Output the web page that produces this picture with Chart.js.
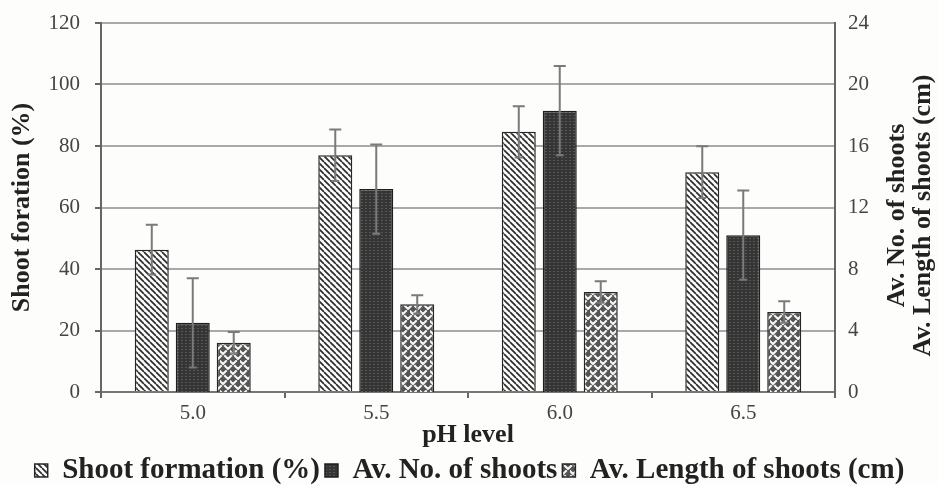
<!DOCTYPE html>
<html>
<head>
<meta charset="utf-8">
<script src="https://cdn.jsdelivr.net/npm/chart.js@4.4.1/dist/chart.umd.min.js"></script>
<style>
    html, body { margin: 0; padding: 0; background: #fdfdfb; }
    #wrap { width: 939px; height: 485px; position: relative; }
</style>
</head>
<body>
<div id="wrap"><canvas id="shoots-chart"></canvas></div>
<script>
const phLevels = ['5.0', '5.5', '6.0', '6.5'];

const shootFormation = [46.3, 77.0, 84.6, 71.5];
const shootFormationErr = [8.1, 8.4, 8.3, 8.4];

const avNoShoots = [4.5, 13.2, 18.3, 10.2];
const avNoShootsErr = [2.9, 2.9, 2.9, 2.9];

const avLengthShoots = [3.2, 5.7, 6.5, 5.2];
const avLengthShootsErr = [0.7, 0.6, 0.7, 0.7];

const leftTicks = {min: 0, max: 120, step: 20};
const rightTicks = {min: 0, max: 24, step: 4};

const serif = "'Liberation Serif', 'Times New Roman', serif";
Chart.defaults.font.family = serif;
Chart.defaults.color = '#333';

function makePattern(w, h, paint) {
    const c = document.createElement('canvas');
    c.width = w;
    c.height = h;
    const g = c.getContext('2d');
    paint(g, w, h);
    return g.createPattern(c, 'repeat');
}

// "\\\" hatch
const hatchPattern = makePattern(6, 6, (g, w, h) => {
    g.fillStyle = '#fbfbfb';
    g.fillRect(0, 0, w, h);
    g.strokeStyle = '#2e2e2e';
    g.lineWidth = 1.7;
    g.beginPath();
    [-w, 0, w].forEach(off => {
        g.moveTo(off, 0);
        g.lineTo(off + w, h);
    });
    g.stroke();
});

// dark fill with fine dotted texture
const darkPattern = makePattern(4, 3, (g, w, h) => {
    g.fillStyle = '#353535';
    g.fillRect(0, 0, w, h);
    g.fillStyle = '#575757';
    g.fillRect(1, 1, 2, 1);
});

// staggered chevrons, weave-like
const zigzagPattern = makePattern(10, 10, (g, w, h) => {
    g.fillStyle = '#545454';
    g.fillRect(0, 0, w, h);
    g.strokeStyle = '#f6f6f6';
    g.lineWidth = 2;
    g.lineCap = 'square';
    g.beginPath();
    g.moveTo(0, 1); g.lineTo(3, 4); g.lineTo(6, 1);
    g.moveTo(5, 6); g.lineTo(8, 9); g.lineTo(11, 6);
    g.moveTo(-5, 6); g.lineTo(-2, 9); g.lineTo(1, 6);
    g.stroke();
});

const errorValues = [shootFormationErr, avNoShootsErr, avLengthShootsErr];

const errorBars = {
    id: 'errorBars',
    afterDatasetsDraw(chart) {
        const ctx = chart.ctx;
        ctx.save();
        ctx.strokeStyle = '#7a7a7a';
        ctx.lineWidth = 2;
        chart.data.datasets.forEach((ds, d) => {
            const meta = chart.getDatasetMeta(d);
            const scale = chart.scales[meta.yAxisID];
            meta.data.forEach((bar, i) => {
                const v = ds.data[i];
                const e = errorValues[d][i];
                const yTop = scale.getPixelForValue(v + e);
                const yBot = scale.getPixelForValue(v - e);
                ctx.beginPath();
                ctx.moveTo(bar.x, yTop);
                ctx.lineTo(bar.x, yBot);
                ctx.moveTo(bar.x - 6, yTop);
                ctx.lineTo(bar.x + 6, yTop);
                ctx.moveTo(bar.x - 4, yBot);
                ctx.lineTo(bar.x + 4, yBot);
                ctx.stroke();
            });
        });
        ctx.restore();
    }
};

// right axis title reads bottom-to-top, two lines
const rightTitle = {
    id: 'rightTitle',
    afterDraw(chart) {
        const ctx = chart.ctx;
        const s = chart.scales.y1;
        const cy = (chart.chartArea.top + chart.chartArea.bottom) / 2 + 8;
        ctx.save();
        ctx.fillStyle = '#222';
        ctx.font = 'bold 26px ' + serif;
        ctx.textAlign = 'center';
        ctx.textBaseline = 'middle';
        [['Av. No. of shoots', 62], ['Av. Length of shoots (cm)', 88]].forEach(([text, dx]) => {
            ctx.save();
            ctx.translate(s.left + dx, cy);
            ctx.rotate(-Math.PI / 2);
            ctx.fillText(text, 0, 0);
            ctx.restore();
        });
        ctx.restore();
    }
};

// fixed axis width, no extra room above/below for the end labels
function fixWidth(width) {
    return (scale) => {
        scale.width = width;
        scale.paddingTop = 0;
        scale.paddingBottom = 0;
    };
}

new Chart(document.getElementById('shoots-chart'), {
    type: 'bar',
    data: {
        labels: phLevels,
        datasets: [{
            label: 'Shoot formation (%)',
            data: shootFormation,
            backgroundColor: hatchPattern,
            borderColor: '#262626',
            borderWidth: 1.5,
            yAxisID: 'y'
        }, {
            label: 'Av. No. of shoots',
            data: avNoShoots,
            backgroundColor: darkPattern,
            borderColor: '#1e1e1e',
            borderWidth: 1.5,
            yAxisID: 'y1'
        }, {
            label: 'Av. Length of shoots (cm)',
            data: avLengthShoots,
            backgroundColor: zigzagPattern,
            borderColor: '#262626',
            borderWidth: 1.5,
            yAxisID: 'y1'
        }]
    },
    options: {
        responsive: true,
        maintainAspectRatio: false,
        animation: false,
        categoryPercentage: 0.67,
        barPercentage: 0.83,
        layout: {padding: {top: 23, left: 0, right: 0, bottom: -10}},
        plugins: {
            tooltip: {enabled: false},
            legend: {
                position: 'bottom',
                labels: {
                    boxWidth: 13,
                    boxHeight: 13,
                    padding: 5,
                    color: '#222',
                    font: {size: 29, weight: 'bold'}
                }
            }
        },
        scales: {
            x: {
                grid: {
                    offset: true,
                    drawOnChartArea: false,
                    tickLength: 6,
                    tickColor: '#666',
                    lineWidth: 2
                },
                border: {color: '#777', width: 2},
                ticks: {padding: 3, color: '#444', font: {size: 21}},
                title: {
                    display: true,
                    text: 'pH level',
                    color: '#222',
                    padding: {top: 0, bottom: 0},
                    font: {size: 26, weight: 'bold'}
                },
                afterFit(scale) { scale.height = 59; }
            },
            y: {
                position: 'left',
                min: leftTicks.min,
                max: leftTicks.max,
                ticks: {stepSize: leftTicks.step, padding: 15, color: '#444', font: {size: 21}},
                grid: {color: '#a9a9a9', lineWidth: 2, tickLength: 6, tickColor: '#666'},
                border: {color: '#666', width: 2},
                title: {
                    display: true,
                    text: 'Shoot foration (%)',
                    color: '#222',
                    padding: {top: 7, bottom: 0},
                    font: {size: 26, weight: 'bold'}
                },
                afterFit: fixWidth(101)
            },
            y1: {
                position: 'right',
                min: rightTicks.min,
                max: rightTicks.max,
                ticks: {stepSize: rightTicks.step, padding: 13, color: '#444', font: {size: 21}},
                grid: {display: false, drawOnChartArea: false, drawTicks: false},
                border: {display: true, color: '#666', width: 2},
                afterFit: fixWidth(104)
            }
        }
    },
    plugins: [errorBars, rightTitle]
});
</script>
</body>
</html>
